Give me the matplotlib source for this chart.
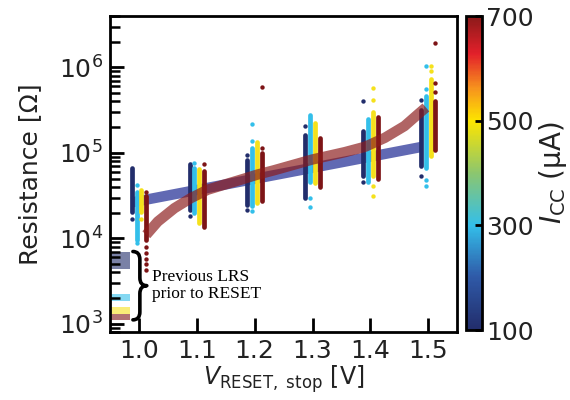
import numpy as np
import matplotlib
matplotlib.use('Agg')
import matplotlib.pyplot as plt
from matplotlib.colors import LinearSegmentedColormap, Normalize
from matplotlib.path import Path
from matplotlib.patches import PathPatch
import matplotlib.cm as cm

v_stop = [1.0, 1.1, 1.2, 1.3, 1.4, 1.5]
icc = [100, 300, 500, 700]

# dense part of every column (Ohm)
lo_100 = [2.05e4, 2.15e4, 2.47e4, 2.95e4, 5.3e4, 6.95e4]
hi_100 = [6.7e4, 7.5e4, 8.3e4, 1.64e5, 1.8e5, 3.2e5]
lo_300 = [9.5e3, 1.97e4, 2.4e4, 4.6e4, 4.6e4, 6.7e4]
hi_300 = [3.5e4, 6.7e4, 1.15e5, 2.8e5, 2.5e5, 4.6e5]
lo_500 = [2.05e4, 1.5e4, 2.6e4, 4.4e4, 5.3e4, 9.1e4]
hi_500 = [3.7e4, 6.4e4, 1.33e5, 2.25e5, 3.0e5, 7.3e5]
lo_700 = [9.5e3, 1.37e4, 2.7e4, 4.0e4, 4.9e4, 1.09e5]
hi_700 = [3.1e4, 6.1e4, 1.0e5, 1.5e5, 2.6e5, 4.05e5]

# loose points outside the dense part
out_v_100 = [1.0, 1.1, 1.2, 1.2, 1.3, 1.4, 1.4, 1.5, 1.5]
out_r_100 = [1.7e4, 1.83e4, 9.5e4, 2.15e4, 2.04e5, 4.1e5, 4.5e4, 4.2e5, 5.3e4]
out_v_300 = [1.0, 1.0, 1.1, 1.2, 1.2, 1.2, 1.3, 1.3, 1.5, 1.5, 1.5, 1.5]
out_r_300 = [4.2e4, 8.7e3, 7.7e4, 2.15e5, 1.37e5, 2.1e4, 2.95e4, 2.3e4, 1.04e6, 5.6e5, 4.85e4, 4.05e4]
out_v_500 = [1.0, 1.4, 1.4, 1.4, 1.4, 1.5, 1.5]
out_r_500 = [1.68e4, 5.7e5, 4.2e5, 4.05e4, 3.15e4, 1.04e6, 9.1e5]
out_v_700 = [1.0, 1.0, 1.0, 1.0, 1.0, 1.0, 1.1, 1.2, 1.2, 1.5, 1.5, 1.5]
out_r_700 = [3.5e4, 8.0e3, 6.8e3, 5.8e3, 5.0e3, 4.2e3, 7.5e4, 5.9e5, 1.15e5, 1.93e6, 6.5e5, 5.1e5]

# fit lines
fit_v_100 = [0.9875, 1.4875]
fit_r_100 = [2.63e4, 1.17e5]
fit_v_700 = [1.0127, 1.0326, 1.0613, 1.090, 1.1186, 1.1473, 1.176, 1.2045,
             1.233, 1.299, 1.356, 1.391, 1.425, 1.459, 1.482, 1.496]
fit_r_700 = [1.1e4, 1.57e4, 2.25e4, 2.96e4, 3.7e4, 4.24e4, 4.85e4, 5.56e4,
             6.24e4, 8.34e4, 1.02e5, 1.18e5, 1.5e5, 2.06e5, 2.82e5, 3.4e5]

# previous LRS ranges
lrs_lo = [4.4e3, 1.85e3, 1.31e3, 1.11e3]
lrs_hi = [7.0e3, 2.2e3, 1.57e3, 1.31e3]

cols = ['#222d6b', '#33bfea', '#f5e11c', '#7d1416']
offs = [-0.0125, -0.0042, 0.0042, 0.0125]
cmap = LinearSegmentedColormap.from_list('icc', [
    (0.0, '#222d6b'), (0.17, '#2f5aa8'), (0.333, '#33bfea'), (0.5, '#8cc66e'),
    (0.667, '#fde500'), (0.77, '#f7941d'), (0.88, '#e3202a'), (1.0, '#8b1a1a')])

plt.rcParams['font.family'] = 'DejaVu Sans'
fig = plt.figure(figsize=(5.7, 4.0), dpi=100)
ax = fig.add_axes([0.193, 0.17, 0.609, 0.79])
ax.set_yscale('log')
ax.set_xlim(0.95, 1.55)
ax.set_ylim(800, 4e6)

# LRS bars
for k in range(4):
    ax.axhspan(lrs_lo[k], lrs_hi[k], xmin=0, xmax=0.058, color=cols[k], alpha=0.6, lw=0)

# fits
ax.plot(fit_v_100, fit_r_100, color='#3a44a0', alpha=0.8, lw=7.5, solid_capstyle='butt', zorder=2)

los = [lo_100, lo_300, lo_500, lo_700]
his = [hi_100, hi_300, hi_500, hi_700]
ov = [out_v_100, out_v_300, out_v_500, out_v_700]
orr = [out_r_100, out_r_300, out_r_500, out_r_700]
for k in range(4):
    x = np.array(v_stop) + offs[k]
    ax.vlines(x, los[k], his[k], color=cols[k], lw=3.4, capstyle='round', zorder=3)
    ax.scatter(np.array(ov[k]) + offs[k], orr[k], s=10, color=cols[k], lw=0, zorder=3)

ax.plot(fit_v_700, fit_r_700, color='#8b1a1a', alpha=0.68, lw=7.5, solid_capstyle='butt',
        solid_joinstyle='round', zorder=4)

# brace next to LRS bars
lmin, lmax = np.log10(800), np.log10(4e6)
yt = (np.log10(lrs_hi[0]) - lmin) / (lmax - lmin)
yb = (np.log10(lrs_lo[3]) - lmin) / (lmax - lmin)
ym = (yt + yb) / 2
x0, xm, x1 = 0.066, 0.086, 0.106
d = 0.025
verts = [(x0, yt), (xm, yt), (xm, yt - d), (xm, yt - d),
         (xm, ym + d), (xm, ym), (x1, ym),
         (xm, ym), (xm, ym - d), (xm, ym - d),
         (xm, yb + d), (xm, yb), (x0, yb)]
codes = [Path.MOVETO, Path.CURVE3, Path.CURVE3, Path.LINETO,
         Path.LINETO, Path.CURVE3, Path.CURVE3,
         Path.CURVE3, Path.CURVE3, Path.LINETO,
         Path.LINETO, Path.CURVE3, Path.CURVE3]
ax.add_patch(PathPatch(Path(verts, codes), transform=ax.transAxes, fill=False,
                       lw=2.6, ec='black', capstyle='round', joinstyle='round'))
ax.text(0.121, ym, 'Previous LRS\nprior to RESET', transform=ax.transAxes,
        fontsize=12.5, family='Liberation Serif', va='center', ha='left', linespacing=1.05)

ax.set_xticks(v_stop)
ax.set_xticklabels(['%.1f' % v for v in v_stop])
ax.tick_params(axis='both', which='major', direction='in', labelsize=18, labelcolor='#222222',
               length=10, width=2, top=False, right=False, pad=5)
ax.tick_params(axis='y', which='minor', direction='in', length=7, width=1.8, right=False)
ax.tick_params(axis='x', which='minor', bottom=False)
for s in ax.spines.values():
    s.set_linewidth(2)
ax.set_ylabel('Resistance [Ω]', fontsize=18, color='#222222', labelpad=12)
ax.set_xlabel(r'$V_{\rm RESET,\ stop}$ [V]', fontsize=17, color='#222222', labelpad=0)

cax = fig.add_axes([0.8175, 0.175, 0.028, 0.785])
sm = cm.ScalarMappable(norm=Normalize(100, 700), cmap=cmap)
cb = fig.colorbar(sm, cax=cax, ticks=[100, 300, 500, 700])
cb.outline.set_linewidth(2)
cax.tick_params(direction='in', length=5, width=2, labelsize=18, labelcolor='#222222', pad=3)
cb.set_label(r'$I_{\rm CC}$ (μA)', fontsize=20, color='#222222', labelpad=2)

fig.savefig('out.png', dpi=100)
